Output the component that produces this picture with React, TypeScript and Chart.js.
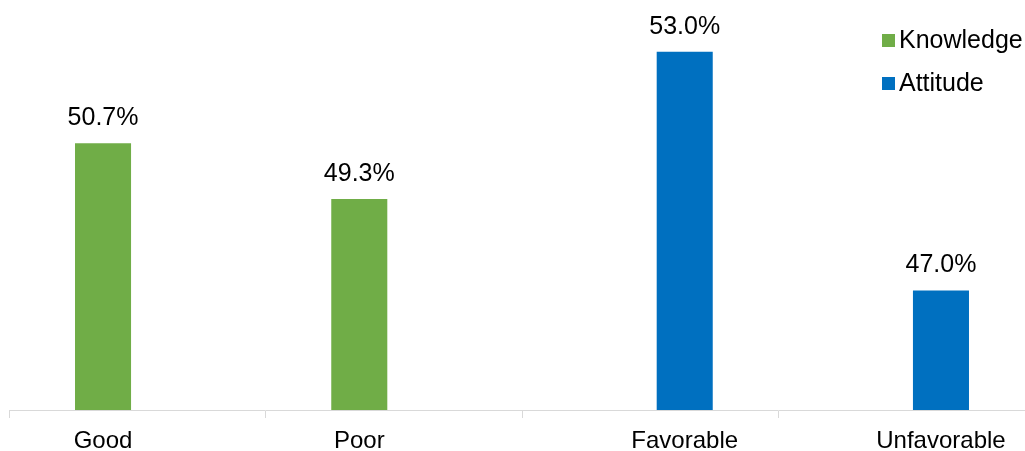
import React, { useEffect, useRef } from "react";
import { Chart, registerables } from "chart.js";

Chart.register(...registerables);

const categories = ["Good", "Poor", "Favorable", "Unfavorable"];
const knowledgeValues = [50.7, 49.3, null, null];
const attitudeValues = [null, null, 53.0, 47.0];
const seriesNames = ["Knowledge", "Attitude"];
const seriesColors = ["#70AD47", "#0070C0"];

const FONT = "'Liberation Sans', Arial, sans-serif";

const labelPlugin = {
  id: "valueLabels",
  afterDatasetsDraw(chart: any) {
    const ctx = chart.ctx;
    ctx.save();
    ctx.fillStyle = "#000000";
    ctx.textAlign = "center";
    ctx.textBaseline = "middle";
    const labelX: number[] = [];
    ctx.font = `25px ${FONT}`;
    chart.data.datasets.forEach((ds: any, i: number) => {
      const meta = chart.getDatasetMeta(i);
      meta.data.forEach((bar: any, j: number) => {
        const v = ds.data[j];
        if (v === null || v === undefined) return;
        labelX[j] = bar.x;
        ctx.fillText(v.toFixed(1) + "%", bar.x, bar.y - 25);
      });
    });
    // category labels, centred under each bar
    ctx.font = `24px ${FONT}`;
    const y = chart.chartArea.bottom + 31;
    chart.data.labels.forEach((lab: string, j: number) => {
      const x = labelX[j] !== undefined ? labelX[j] : chart.scales.x.getPixelForValue(j);
      ctx.fillText(lab, x, y);
    });
    ctx.restore();
  },
};

const legendPlugin = {
  id: "customLegend",
  afterDraw(chart: any) {
    const ctx = chart.ctx;
    ctx.save();
    ctx.font = `25px ${FONT}`;
    ctx.textBaseline = "middle";
    ctx.textAlign = "left";
    const rows = [40, 83];
    seriesNames.forEach((name, i) => {
      const cy = rows[i];
      ctx.fillStyle = seriesColors[i];
      ctx.fillRect(882, cy - 6, 13, 13);
      ctx.fillStyle = "#000000";
      ctx.fillText(name, 899, cy + 1);
    });
    ctx.restore();
  },
};

export default function App() {
  const ref = useRef<HTMLCanvasElement>(null);
  useEffect(() => {
    document.documentElement.style.overflow = "hidden";
    document.body.style.margin = "0";
    document.body.style.overflow = "hidden";
    if (!ref.current) return;
    const chart = new Chart(ref.current, {
      type: "bar",
      data: {
        labels: categories,
        datasets: [
          {
            label: seriesNames[0],
            data: knowledgeValues,
            backgroundColor: seriesColors[0],
            barPercentage: 0.81,
            categoryPercentage: 0.54,
          },
          {
            label: seriesNames[1],
            data: attitudeValues,
            backgroundColor: seriesColors[1],
            barPercentage: 0.81,
            categoryPercentage: 0.54,
          },
        ],
      },
      options: {
        animation: false,
        responsive: false,
        devicePixelRatio: 1,
        layout: { padding: { left: 9.5, right: 5.5, top: 12, bottom: 33 } },
        plugins: {
          legend: { display: false },
          tooltip: { enabled: false },
        },
        scales: {
          x: {
            offset: true,
            grid: {
              offset: true,
              drawOnChartArea: false,
              drawTicks: true,
              tickLength: 8,
              color: "#D9D9D9",
            },
            border: { color: "#D9D9D9", width: 1 },
            ticks: { display: false },
          },
          y: {
            display: false,
            min: 44,
            max: 54,
          },
        },
      },
      plugins: [labelPlugin, legendPlugin],
    });
    return () => chart.destroy();
  }, []);
  return (
    <div style={{ width: 1025, height: 451, overflow: "hidden", position: "relative", background: "#fff" }}>
      <canvas ref={ref} width={1040} height={451} style={{ display: "block", width: 1040, height: 451 }} />
    </div>
  );
}
